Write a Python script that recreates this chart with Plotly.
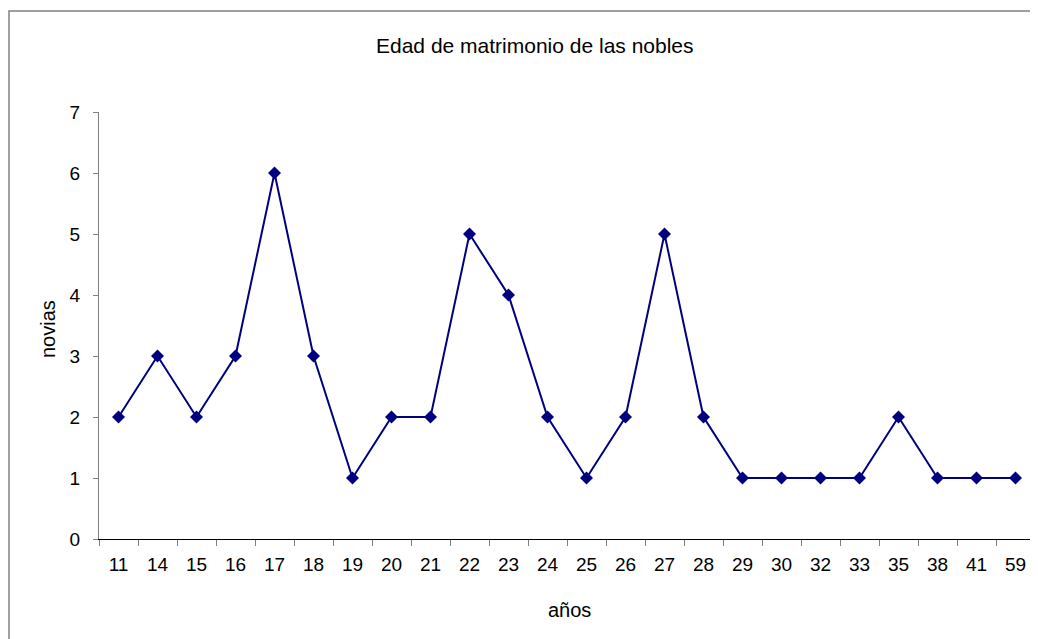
import plotly.graph_objects as go

edades = ["11", "14", "15", "16", "17", "18", "19", "20", "21", "22", "23", "24",
          "25", "26", "27", "28", "29", "30", "32", "33", "35", "38", "41", "59"]
novias = [2, 3, 2, 3, 6, 3, 1, 2, 2, 5, 4, 2, 1, 2, 5, 2, 1, 1, 1, 1, 2, 1, 1, 1]

titulo = "Edad de matrimonio de las nobles"
titulo_x = "años"
titulo_y = "novias"

FONT = "Liberation Sans, Arial, sans-serif"
OFF = 8  # page body margin
W, H = 1038 - OFF, 639 - OFF
L, R, T, B = 91, 3, 104, 100
pw, ph = W - L - R, H - T - B


def px(x):
    return (x - OFF - L) / pw


def py(y):
    return (H - B - (y - OFF)) / ph


fig = go.Figure()
fig.add_trace(go.Scatter(
    x=edades, y=novias, mode="lines+markers",
    line=dict(color="#000080", width=2),
    marker=dict(symbol="diamond", size=10, color="#000080"),
    showlegend=False, hoverinfo="x+y",
))

fig.update_layout(
    width=W, height=H,
    margin=dict(l=L, r=R, t=T, b=B, pad=0),
    paper_bgcolor="white", plot_bgcolor="white",
    font=dict(family=FONT, size=19, color="black"),
    xaxis=dict(
        type="category", range=[-0.5, len(edades) - 0.5],
        tickson="boundaries", ticks="outside", ticklen=6, tickcolor="#808080",
        showline=True, linecolor="black", linewidth=1,
        showgrid=False, zeroline=False,
        tickfont=dict(family=FONT, size=19), ticklabelstandoff=8,
    ),
    yaxis=dict(
        range=[0, 7], dtick=1, ticks="outside", ticklen=5, tickcolor="#808080",
        showline=True, linecolor="#808080", linewidth=1,
        showgrid=False, zeroline=False,
        tickfont=dict(family=FONT, size=19), ticklabelstandoff=9,
    ),
    shapes=[dict(type="rect", xref="paper", yref="paper",
                 x0=px(9), x1=1.05, y0=-0.5, y1=py(11),
                 line=dict(color="#808080", width=1.5), layer="below")],
    annotations=[
        dict(text=titulo, xref="paper", yref="paper",
             x=px(535), y=py(45), showarrow=False,
             xanchor="center", yanchor="middle",
             font=dict(family=FONT, size=21)),
        dict(text=titulo_x, xref="paper", yref="paper",
             x=px(569), y=py(610), showarrow=False,
             xanchor="center", yanchor="middle",
             font=dict(family=FONT, size=20)),
        dict(text=titulo_y, xref="paper", yref="paper",
             x=px(48), y=py(329), showarrow=False,
             xanchor="center", yanchor="middle", textangle=-90,
             font=dict(family=FONT, size=20)),
    ],
)

fig.write_html("out.html")
